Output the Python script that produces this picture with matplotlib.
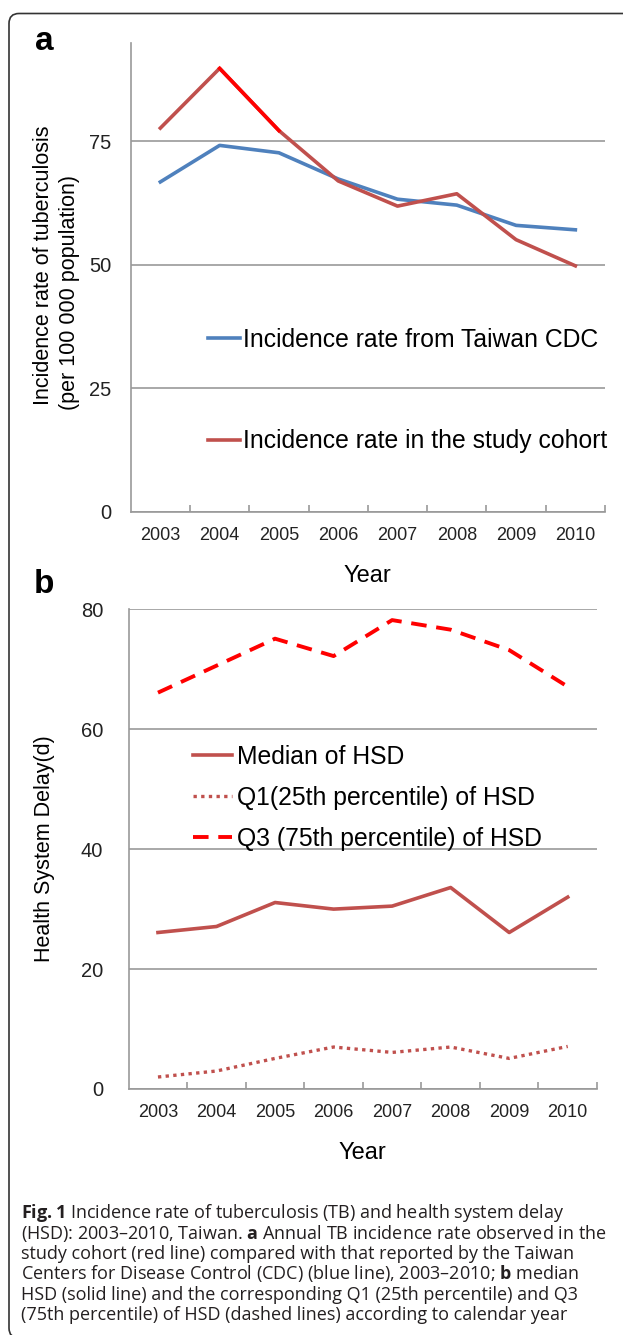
import matplotlib.pyplot as plt
import matplotlib.patches as mpatches
from matplotlib.transforms import IdentityTransform

plt.rcParams['font.family'] = ['Liberation Sans', 'DejaVu Sans']
plt.rcParams['mathtext.fontset'] = 'custom'
plt.rcParams['mathtext.rm'] = 'Open Sans'
plt.rcParams['mathtext.bf'] = 'Open Sans:bold'

# data
years = ['2003', '2004', '2005', '2006', '2007', '2008', '2009', '2010']
cdc_rate = [66.8, 74.2, 72.7, 67.4, 63.3, 62.1, 58.0, 57.1]
cohort_rate = [77.7, 89.8, 77.2, 67.0, 61.9, 64.4, 55.1, 49.8]
hsd_median = [26.1, 27.1, 31.1, 30.0, 30.5, 33.6, 26.1, 32.0]
hsd_q1 = [2.0, 3.0, 5.1, 7.0, 6.1, 7.0, 5.1, 7.1]
hsd_q3 = [66.1, 70.6, 75.1, 72.2, 78.2, 76.6, 73.2, 67.1]

caption = [
    r"$\mathbf{Fig.1}$ Incidence rate of tuberculosis (TB) and health system delay",
    r"(HSD): 2003–2010, Taiwan. $\mathbf{a}$ Annual TB incidence rate observed in the",
    "study cohort (red line) compared with that reported by the Taiwan",
    r"Centers for Disease Control (CDC) (blue line), 2003–2010; $\mathbf{b}$ median",
    "HSD (solid line) and the corresponding Q1 (25th percentile) and Q3",
    "(75th percentile) of HSD (dashed lines) according to calendar year",
]

W, H = 623, 1335
GRID = '#999999'
TXT = '#222222'
BLUE = '#4F81BD'
DRED = '#C0504D'
RED = '#FF0000'

fig = plt.figure(figsize=(W / 100, H / 100), dpi=100)


def px_axes(l, t, r, b):
    return fig.add_axes([l / W, 1 - b / H, (r - l) / W, (b - t) / H])


def style(ax, ymax, yticks, ypad):
    x = range(len(years))
    ax.set_xlim(-0.5, len(years) - 0.5)
    ax.set_ylim(0, ymax)
    ax.set_xticks(list(x))
    ax.set_xticklabels(years)
    ax.set_xticks([i + 0.5 for i in x], minor=True)
    ax.tick_params(axis='x', which='major', length=0, pad=11, labelsize=13, labelcolor=TXT)
    ax.tick_params(axis='x', which='minor', length=5, direction='in', color=GRID, width=1.2)
    ax.set_yticks(yticks)
    ax.tick_params(axis='y', length=0, pad=ypad, labelsize=14.5, labelcolor=TXT)
    ax.grid(axis='y', color=GRID, lw=1.2)
    ax.set_axisbelow(True)
    for s in ['top', 'right']:
        ax.spines[s].set_visible(False)
    for s in ['left', 'bottom']:
        ax.spines[s].set_color(GRID)
        ax.spines[s].set_linewidth(1.2)
    ax.set_xlabel('Year', fontsize=17, labelpad=15, color='black')


# panel a
ax_a = px_axes(130.7, 42.7, 605, 511.7)
xs = list(range(len(years)))
l_cdc, = ax_a.plot(xs, cdc_rate, color=BLUE, lw=2.6, label='Incidence rate from Taiwan CDC')
l_coh, = ax_a.plot(xs, cohort_rate, color=DRED, lw=2.6, label='Incidence rate in the study cohort')
ax_a.plot(xs[1:3], cohort_rate[1:3], color=RED, lw=2.6)
style(ax_a, 95, [0, 25, 50, 75], 14)
ax_a.legend(handles=[l_cdc, l_coh], loc='upper left', bbox_to_anchor=(208 / W, 1 - 327.5 / H),
            bbox_transform=fig.transFigure, frameon=False, fontsize=17.8, handlelength=1.28,
            handletextpad=0.12, labelspacing=3.15, borderpad=0, borderaxespad=0)

# panel b
ax_b = px_axes(128.7, 609.3, 597, 1089)
l_med, = ax_b.plot(xs, hsd_median, color=DRED, lw=2.6, label='Median of HSD')
l_q1, = ax_b.plot(xs, hsd_q1, color=DRED, lw=2.4, ls=(0, (1, 1.3)), label='Q1(25th percentile) of HSD')
l_q3, = ax_b.plot(xs, hsd_q3, color=RED, lw=2.8, ls=(0, (4, 2.5)), label='Q3 (75th percentile) of HSD')
style(ax_b, 80, [0, 20, 40, 60, 80], 18.5)
ax_b.legend(handles=[l_med, l_q1, l_q3], loc='upper left', bbox_to_anchor=(192.7 / W, 1 - 745 / H),
            bbox_transform=fig.transFigure, frameon=False, fontsize=17.8, handlelength=1.6,
            handletextpad=0.18, labelspacing=0.68, borderpad=0, borderaxespad=0)

# y labels and panel letters
fig.text(43.5 / W, 1 - 265.5 / H, 'Incidence rate of tuberculosis', rotation=90,
         ha='center', va='center', fontsize=15.5)
fig.text(70 / W, 1 - 292.5 / H, '(per 100 000 population)', rotation=90,
         ha='center', va='center', fontsize=15.5)
fig.text(45 / W, 1 - 849 / H, 'Health System Delay(d)', rotation=90,
         ha='center', va='center', fontsize=15.5)
fig.text(44 / W, 1 - 41 / H, 'a', fontsize=24, weight='bold', ha='center', va='center')
fig.text(44 / W, 1 - 584.5 / H, 'b', fontsize=24, weight='bold', ha='center', va='center')

# caption
for i, line in enumerate(caption):
    fig.text(21 / W, 1 - (1218 + 20.5 * i) / H, line, fontsize=13, family='Open Sans',
             color='#231F20', ha='left', va='baseline')

# rounded frame around the figure
frame = mpatches.FancyBboxPatch((9, -3), 660, H - 13.5 + 3,
                                boxstyle='round,pad=0,rounding_size=10',
                                transform=IdentityTransform(), fill=False,
                                edgecolor='#333333', lw=1.2)
fig.add_artist(frame)

fig.savefig('out.png', dpi=100)
